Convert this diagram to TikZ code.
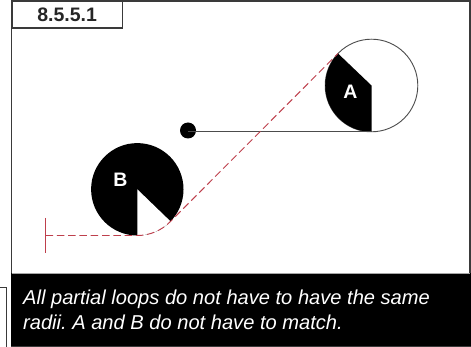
\documentclass[tikz,border=0pt]{standalone}
\usepackage{fontspec}
\setmainfont{Liberation Sans}
\frenchspacing
\definecolor{frameC}{HTML}{3A3A3A}
\definecolor{pathC}{HTML}{BE3F4C}
\tikzset{
  framed/.style={draw=frameC,line width=1.3pt},
  loopline/.style={draw=black!70,line width=0.9pt},
  redpath/.style={draw=pathC,line width=0.95pt,dash pattern=on 7.5pt off 3.8pt},
  letter/.style={text=white,font=\fontsize{19.5}{19.5}\selectfont\bfseries,inner sep=0pt},
}
\begin{document}
\begin{tikzpicture}[x=1pt,y=-1pt]
\useasboundingbox (0,0) rectangle (471,347);
\fill[white] (0,0) rectangle (471,347);
% outer frame and caption band
\draw[framed] (11.5,1) rectangle (470,346);
\fill[black] (11,273) rectangle (471,346);
\draw[draw=black!35,line width=0.6pt] (11.5,273) -- (470,273);
\node[framed,fill=white,minimum width=110pt,minimum height=26.5pt,inner sep=0pt,anchor=north west,font=\fontsize{19.5}{19.5}\selectfont\bfseries,text=black!85] (title) at (11.5,1) {8.5.5.1};
% fragment at lower left
\coordinate (fa) at (0,287.5); \coordinate (fb) at (6.5,287.5); \coordinate (fc) at (6.5,347);
\draw[framed] (fa) -- (fb) -- (fc);
% circle A
\coordinate (ca) at (371.5,85.5);
\coordinate (ab) at (371.5,131.8);
\coordinate (at) at (338,53.5);
\draw[loopline] (ca) circle[radius=46.3];
\fill[black] (at) -- (ca) -- (ab) arc[start angle=90,end angle=223.7,radius=46.3] -- cycle;
% circle B
\coordinate (cb) at (137.3,189.3);
\coordinate (bb) at (137.3,235.5);
\fill[black] (cb) circle[radius=46.2];
\fill[white] (cb) -- (bb) arc[start angle=90,delta angle=-46,radius=46.2] -- cycle;
% dot and black line
\node[circle,fill=black,minimum size=16pt,inner sep=0pt] (dot) at (188,130.5) {};
\draw[loopline] (dot.center |- ab) -- (ab);
% red path
\coordinate (ts) at (45.5,235.5);
\coordinate (tt) at (45.5,218);
\coordinate (tu) at (45.5,253);
\draw[draw=pathC,line width=0.95pt] (tt) -- (tu);
\draw[redpath] (ts) -- (bb) arc[start angle=90,delta angle=-46,radius=46.2] -- (at);
% letters
\node[letter] (A) at (350.5,92) {A};
\node[letter] (B) at (120.5,179.5) {B};
% caption
\node[text=white,anchor=west,align=left,inner sep=0pt,font=\fontsize{20.1}{25}\selectfont\itshape] (cap) at (23,309.5) {All partial loops do not have to have the same\\radii. A and B do not have to match.};
\end{tikzpicture}
\end{document}
